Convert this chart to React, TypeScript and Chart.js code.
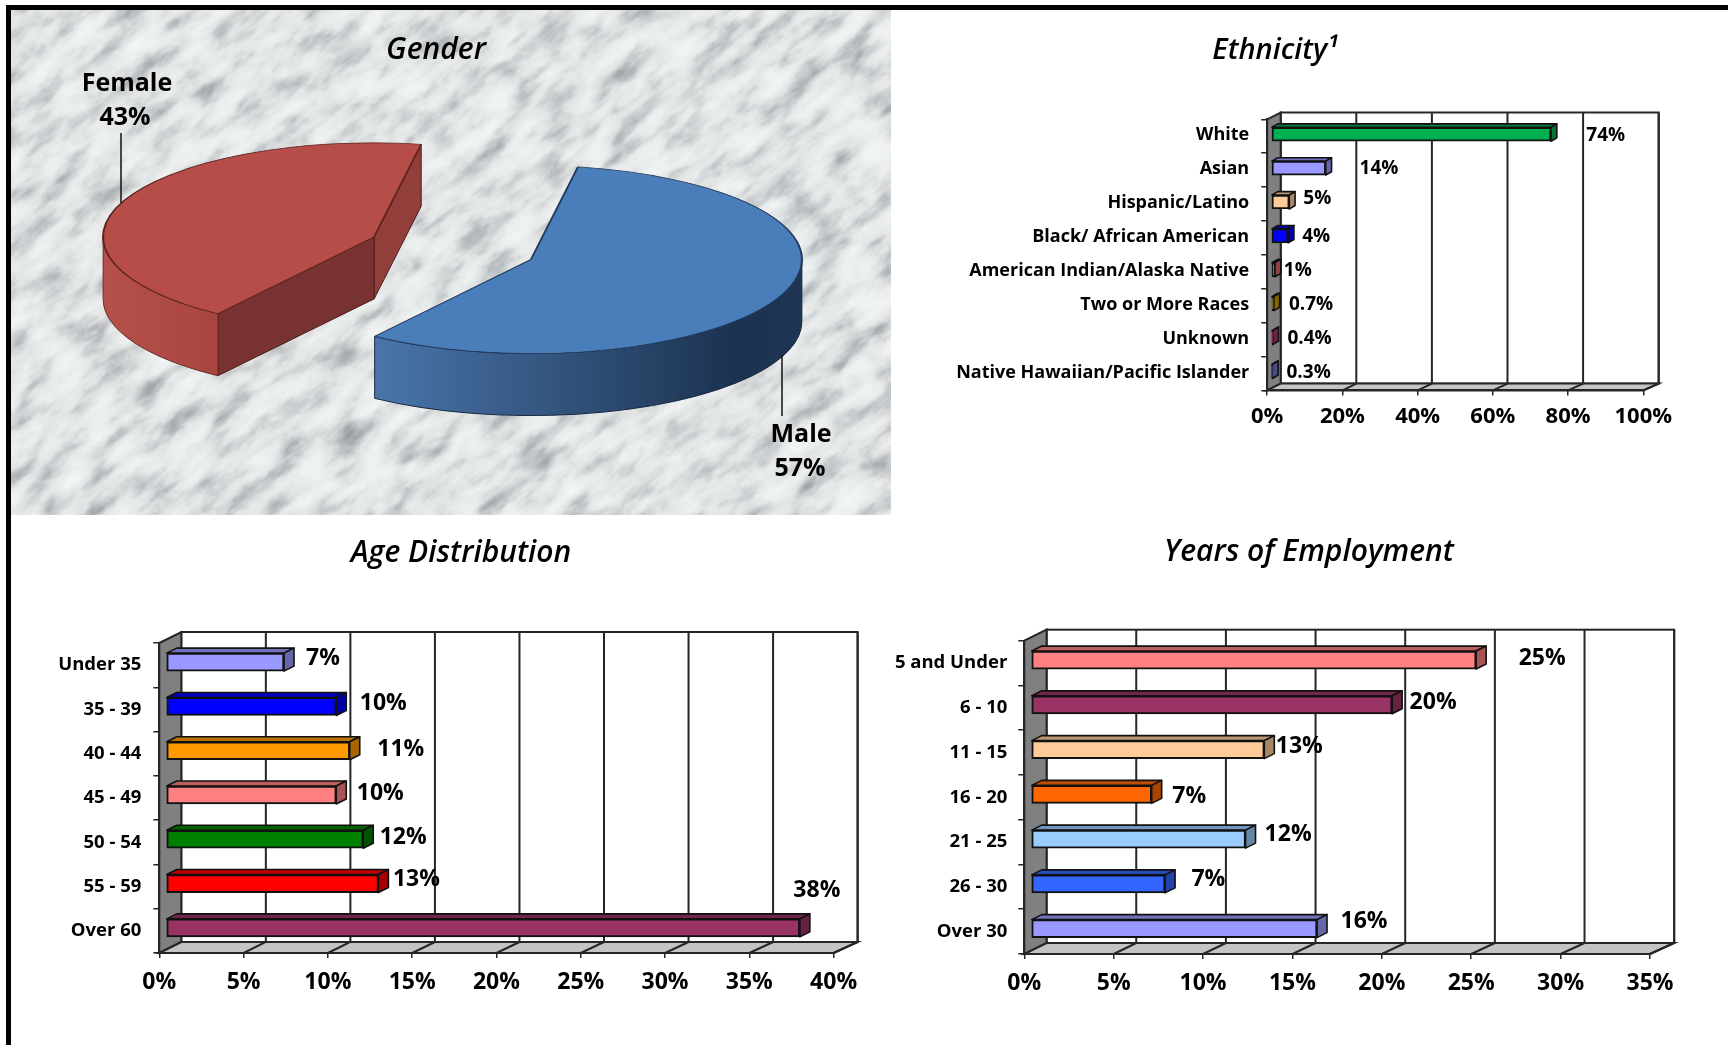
import React, { useEffect, useRef } from "react";
import { Chart, registerables } from "chart.js";

Chart.register(...registerables);

const FONT = '"Open Sans", "Noto Sans", sans-serif';
const INK = "#000000";
const LINE = "#262626";

// ---- data ----
const genderLabels = ["Male", "Female"];
const genderValues = [57, 43];
const genderColors = ["#4A7EBB", "#B64D48"];

const ethnicityCategories = ["White", "Asian", "Hispanic/Latino", "Black/ African American", "American Indian/Alaska Native", "Two or More Races", "Unknown", "Native Hawaiian/Pacific Islander"];
const ethnicityValues = [74.4, 14.5, 4.8, 4.5, 1, 0.7, 0.4, 0.3];
const ethnicityText = ["74%", "14%", "5%", "4%", "1%", "0.7%", "0.4%", "0.3%"];
const ethnicityColors = ["#00B050", "#9999FF", "#FFCC99", "#0000FF", "#E06666", "#C79A00", "#A6336A", "#6F74D8"];
const ethnicityNudgeX = [54.7, 53.2, 28, 28, 22.9, 37.2, 36.9, 36.3];
const ethnicityNudgeY = [-1.8, -2.2, -6.6, -2.4, -1.8, -2.2, -2.4, -2.3];

const ageCategories = ["Under 35", "35 - 39", "40 - 44", "45 - 49", "50 - 54", "55 - 59", "Over 60"];
const ageValues = [7, 10.1, 10.9, 10.1, 11.7, 12.6, 37.6];
const ageText = ["7%", "10%", "11%", "10%", "12%", "13%", "38%"];
const ageColors = ["#9999FF", "#0000FF", "#FF9900", "#FF8080", "#008000", "#FF0000", "#993366"];
const ageNudgeX = [39, 47, 51, 44, 40, 38, 17];
const ageNudgeY = [-8, -7, -5, -6, -6, -8, -41];

const yearsCategories = ["5 and Under", "6 - 10", "11 - 15", "16 - 20", "21 - 25", "26 - 30", "Over 30"];
const yearsValues = [24.9, 20.2, 13.05, 6.75, 12, 7.5, 16];
const yearsText = ["25%", "20%", "13%", "7%", "12%", "7%", "16%"];
const yearsColors = ["#FF8080", "#993366", "#FFCC99", "#FF6600", "#99CCFF", "#3366FF", "#9999FF"];
const yearsNudgeX = [66, 41, 35, 37.5, 42.6, 43.3, 47];
const yearsNudgeY = [-6, -6, -7.6, -1.7, -8.9, -8.6, -10.7];

function shade(hex: string, f: number) {
  const n = parseInt(hex.slice(1), 16);
  const c = [(n >> 16) & 255, (n >> 8) & 255, n & 255].map((v) => Math.round(v * f));
  return `rgb(${c[0]},${c[1]},${c[2]})`;
}

// ---- shared: title placed at an exact centre ----
const titleCentre = {
  id: "titleCentre",
  afterLayout(chart: any, _a: any, o: any) {
    const t = chart.titleBlock;
    if (t && o.x !== undefined) {
      t.left = o.x - 420;
      t.right = o.x + 420;
    }
  },
};

// ---- 3-D box for bar charts ----
const box3d = {
  id: "box3d",
  beforeDraw(chart: any, _a: any, o: any) {
    const { ctx, chartArea: a, scales } = chart;
    const { wallX: dx, wallY: dy, wallGrow: g } = o;
    const backRight = a.left + dx + (a.right - a.left) * g;
    ctx.save();
    ctx.lineWidth = 2;
    ctx.strokeStyle = LINE;
    ctx.fillStyle = "#FFFFFF";
    ctx.fillRect(a.left + dx, a.top - dy, backRight - a.left - dx, a.bottom - a.top);
    ctx.strokeRect(a.left + dx, a.top - dy, backRight - a.left - dx, a.bottom - a.top);
    const poly = (pts: number[][], fill: string) => {
      ctx.beginPath();
      pts.forEach((p, i) => (i ? ctx.lineTo(p[0], p[1]) : ctx.moveTo(p[0], p[1])));
      ctx.closePath();
      ctx.fillStyle = fill;
      ctx.fill();
      ctx.stroke();
    };
    poly([[a.left, a.top], [a.left + dx, a.top - dy], [a.left + dx, a.bottom - dy], [a.left, a.bottom]], "#808080");
    poly([[a.left, a.bottom], [a.right, a.bottom], [backRight, a.bottom - dy], [a.left + dx, a.bottom - dy]], "#C4C4C4");
    scales.x.ticks.forEach((t: any) => {
      const px = scales.x.getPixelForValue(t.value);
      if (px <= a.left + 1) return;
      const bx = a.left + dx + (px - a.left) * g;
      ctx.beginPath();
      ctx.moveTo(px, a.bottom);
      ctx.lineTo(bx, a.bottom - dy);
      ctx.lineTo(bx, a.top - dy);
      ctx.stroke();
    });
    ctx.restore();
  },
  beforeDatasetsDraw(chart: any, _a: any, o: any) {
    const { ctx } = chart;
    ctx.save();
    ctx.translate(o.barX, o.barY);
    const dx = o.depthX;
    const dy = o.depthY;
    chart.getDatasetMeta(0).data.forEach((el: any, i: number) => {
      const col = chart.data.datasets[0].backgroundColor[i];
      const t = el.y - el.height / 2;
      const b = el.y + el.height / 2;
      ctx.lineWidth = 1.6;
      ctx.strokeStyle = "#111111";
      ctx.lineJoin = "round";
      ctx.fillStyle = shade(col, 0.74);
      ctx.beginPath();
      ctx.moveTo(el.base, t);
      ctx.lineTo(el.base + dx, t - dy);
      ctx.lineTo(el.x + dx, t - dy);
      ctx.lineTo(el.x, t);
      ctx.closePath();
      ctx.fill();
      ctx.stroke();
      ctx.fillStyle = shade(col, 0.66);
      ctx.beginPath();
      ctx.moveTo(el.x, t);
      ctx.lineTo(el.x + dx, t - dy);
      ctx.lineTo(el.x + dx, b - dy);
      ctx.lineTo(el.x, b);
      ctx.closePath();
      ctx.fill();
      ctx.stroke();
    });
  },
  afterDatasetsDraw(chart: any) {
    chart.ctx.restore();
  },
  afterDraw(chart: any, _a: any, o: any) {
    const { ctx } = chart;
    ctx.save();
    ctx.font = o.valueFont;
    ctx.fillStyle = INK;
    ctx.textAlign = "center";
    ctx.textBaseline = "middle";
    chart.getDatasetMeta(0).data.forEach((el: any, i: number) => {
      ctx.fillText(o.text[i], el.x + o.barX + o.nudgeX[i], el.y + o.nudgeY[i] + 1);
    });
    ctx.restore();
  },
};

type BarCfg = {
  rect: { left: number; top: number; w: number; h: number };
  plot: { x0: number; x1: number; top: number; bottom: number };
  title: string;
  titleAt: { x: number; y: number };
  titleSize: number;
  categories: string[];
  values: number[];
  colors: string[];
  text: string[];
  nudgeX: number[];
  nudgeY: number[];
  max: number;
  step: number;
  catFont: number;
  tickFont: number;
  valueFont: number;
  thickness: number;
  wall: number[];
  wallGrow: number;
  bar: number[];
  depth: number[];
  catPad: number;
  catOffset: number;
  tickPad: number;
};

function barConfig(c: BarCfg): any {
  const { rect: r, plot: p } = c;
  const lh = c.titleSize * 1.2;
  const titleTop = c.titleAt.y - r.top - lh / 2;
  const titleBottom = p.top - r.top - titleTop - lh;
  return {
    type: "bar",
    data: {
      labels: c.categories,
      datasets: [
        {
          data: c.values,
          backgroundColor: c.colors,
          borderColor: "#111111",
          borderWidth: 2,
          borderSkipped: false,
          barThickness: c.thickness,
          clip: false,
        },
      ],
    },
    plugins: [titleCentre, box3d],
    options: {
      indexAxis: "y",
      responsive: false,
      animation: false,
      events: [],
      layout: { padding: { left: 0, top: 0, right: r.left + r.w - p.x1, bottom: 0 } },
      scales: {
        x: {
          min: 0,
          max: c.max,
          afterFit: (s: any) => {
            s.height = r.top + r.h - p.bottom;
          },
          border: { display: true, color: LINE, width: 2 },
          grid: { drawOnChartArea: false, drawTicks: true, tickLength: 5, color: LINE, lineWidth: 1.5 },
          ticks: {
            stepSize: c.step,
            autoSkip: false,
            maxRotation: 0,
            padding: c.tickPad,
            color: INK,
            font: { family: FONT, size: c.tickFont, weight: "700" },
            callback: (v: any) => `${v}%`,
          },
        },
        y: {
          afterFit: (s: any) => {
            s.width = p.x0 - r.left;
          },
          border: { display: true, color: LINE, width: 2 },
          grid: { drawOnChartArea: false, drawTicks: true, tickLength: 6, color: LINE, lineWidth: 1.5 },
          ticks: {
            autoSkip: false,
            padding: c.catPad,
            labelOffset: c.catOffset,
            color: INK,
            font: { family: FONT, size: c.catFont, weight: "700" },
          },
        },
      },
      plugins: {
        legend: { display: false },
        tooltip: { enabled: false },
        title: {
          display: true,
          text: c.title,
          color: INK,
          font: { family: FONT, size: c.titleSize, style: "italic", weight: "600", lineHeight: 1.2 },
          padding: { top: titleTop, bottom: titleBottom },
        },
        titleCentre: { x: c.titleAt.x - r.left },
        box3d: {
          wallX: c.wall[0],
          wallY: c.wall[1],
          wallGrow: c.wallGrow,
          barX: c.bar[0],
          barY: c.bar[1],
          depthX: c.depth[0],
          depthY: c.depth[1],
          text: c.text,
          nudgeX: c.nudgeX,
          nudgeY: c.nudgeY,
          valueFont: `700 ${c.valueFont}px ${FONT}`,
        },
      },
    },
  };
}

const ethnicityCfg: BarCfg = {
  rect: { left: 900, top: 12, w: 828, h: 500 },
  plot: { x0: 1267.2, x1: 1643.3, top: 119.3, bottom: 390.4 },
  title: "Ethnicity¹",
  titleAt: { x: 1275, y: 51 },
  titleSize: 29,
  categories: ethnicityCategories,
  values: ethnicityValues,
  colors: ethnicityColors,
  text: ethnicityText,
  nudgeX: ethnicityNudgeX,
  nudgeY: ethnicityNudgeY,
  max: 100,
  step: 20,
  catFont: 18,
  tickFont: 22,
  valueFont: 19,
  thickness: 14,
  wall: [13.5, 6.8],
  wallGrow: 1.005,
  bar: [4, -2],
  depth: [5.8, 3.4],
  catPad: 12,
  catOffset: -1,
  tickPad: 8,
};

const ageCfg: BarCfg = {
  rect: { left: 11, top: 525, w: 874, h: 520 },
  plot: { x0: 159.3, x1: 833.6, top: 643, bottom: 953 },
  title: "Age Distribution",
  titleAt: { x: 461, y: 553 },
  titleSize: 30,
  categories: ageCategories,
  values: ageValues,
  colors: ageColors,
  text: ageText,
  nudgeX: ageNudgeX,
  nudgeY: ageNudgeY,
  max: 40,
  step: 5,
  catFont: 18.5,
  tickFont: 23,
  valueFont: 23,
  thickness: 18,
  wall: [22, 11],
  wallGrow: 1.003,
  bar: [6.7, -3],
  depth: [10, 5],
  catPad: 12,
  catOffset: 0,
  tickPad: 11,
};

const yearsCfg: BarCfg = {
  rect: { left: 885, top: 525, w: 843, h: 520 },
  plot: { x0: 1024.3, x1: 1650, top: 640.7, bottom: 954 },
  title: "Years of Employment",
  titleAt: { x: 1309, y: 552 },
  titleSize: 30,
  categories: yearsCategories,
  values: yearsValues,
  colors: yearsColors,
  text: yearsText,
  nudgeX: yearsNudgeX,
  nudgeY: yearsNudgeY,
  max: 35,
  step: 5,
  catFont: 18.5,
  tickFont: 23,
  valueFont: 23,
  thickness: 18,
  wall: [22.3, 11],
  wallGrow: 1.003,
  bar: [6.7, -3],
  depth: [10, 5],
  catPad: 11,
  catOffset: 0,
  tickPad: 11,
};

// ---- extruded, squashed pie ----
const TILT = 0.347;
const DEPTH = 62;
const EXPLODE = 84.9;
const pie3d = {
  id: "pie3d",
  afterDatasetsUpdate(chart: any) {
    chart.getDatasetMeta(0).data.forEach((el: any) => {
      const half = (el.startAngle + el.endAngle) / 2;
      el.x += Math.cos(half) * EXPLODE;
      el.y += Math.sin(half) * EXPLODE;
    });
  },
  beforeDatasetsDraw(chart: any) {
    const { ctx, chartArea } = chart;
    const arcs = chart.getDatasetMeta(0).data;
    const cy = (chartArea.top + chartArea.bottom) / 2;
    const walls = [
      [["#4A75AB", 0], ["#2F4E75", 0.5], ["#1B3250", 0.85], ["#1E3654", 1]],
      [["#B5504A", 0], ["#A9453F", 1]],
    ];
    arcs.forEach((el: any, i: number) => {
      const cx = el.x;
      const yc = cy + (el.y - cy) * TILT;
      const R = el.outerRadius;
      const pt = (a: number) => [cx + R * Math.cos(a), yc + R * TILT * Math.sin(a)];
      const face = (a: number, fill: string) => {
        const p = pt(a);
        ctx.beginPath();
        ctx.moveTo(cx, yc);
        ctx.lineTo(p[0], p[1]);
        ctx.lineTo(p[0], p[1] + DEPTH);
        ctx.lineTo(cx, yc + DEPTH);
        ctx.closePath();
        ctx.fillStyle = fill;
        ctx.fill();
        ctx.lineWidth = 1;
        ctx.strokeStyle = "#4A1D1B";
        ctx.stroke();
      };
      if (Math.sin(el.endAngle + Math.PI / 2) > 0) face(el.endAngle, shade(genderColors[i], 0.8));
      if (Math.sin(el.startAngle - Math.PI / 2) > 0) face(el.startAngle, shade(genderColors[i], 0.66));
      const a0 = Math.max(el.startAngle, 0);
      const a1 = Math.min(el.endAngle, Math.PI);
      if (a1 > a0) {
        const p0 = pt(a0);
        const p1 = pt(a1);
        const g = ctx.createLinearGradient(Math.min(p0[0], p1[0]), 0, Math.max(p0[0], p1[0]), 0);
        walls[i].forEach((s: any) => g.addColorStop(s[1], s[0]));
        ctx.beginPath();
        ctx.ellipse(cx, yc, R, R * TILT, 0, a0, a1);
        ctx.lineTo(p1[0], p1[1] + DEPTH);
        ctx.ellipse(cx, yc + DEPTH, R, R * TILT, 0, a1, a0, true);
        ctx.closePath();
        ctx.fillStyle = g;
        ctx.fill();
        ctx.lineWidth = 1;
        ctx.strokeStyle = i ? "#6E2A27" : "#16283F";
        ctx.stroke();
      }
    });
    ctx.save();
    ctx.translate(0, cy);
    ctx.scale(1, TILT);
    ctx.translate(0, -cy);
  },
  afterDatasetsDraw(chart: any, _a: any, o: any) {
    const { ctx } = chart;
    ctx.restore();
    ctx.save();
    ctx.strokeStyle = "#111111";
    ctx.lineWidth = 1.5;
    o.leaders.forEach((l: number[]) => {
      ctx.beginPath();
      ctx.moveTo(l[0], l[1]);
      ctx.lineTo(l[0], l[2]);
      ctx.stroke();
    });
    ctx.fillStyle = INK;
    ctx.font = `700 25px ${FONT}`;
    ctx.textAlign = "center";
    ctx.textBaseline = "middle";
    o.callouts.forEach((c: any) => ctx.fillText(c.t, c.x, c.y));
    ctx.restore();
  },
};

const PIE_RECT = { left: 11, top: 10, w: 880, h: 505 };

function pieConfig(): any {
  const r = PIE_RECT;
  return {
    type: "pie",
    data: {
      labels: genderLabels,
      datasets: [
        {
          data: genderValues,
          backgroundColor: genderColors,
          borderColor: ["#23395A", "#5E2422"],
          borderWidth: 2,
          clip: false,
        },
      ],
    },
    plugins: [titleCentre, pie3d],
    options: {
      responsive: false,
      animation: false,
      events: [],
      rotation: 10,
      radius: 271,
      layout: { padding: { left: 3, right: 0, top: 0, bottom: 86.6 } },
      plugins: {
        legend: { display: false },
        tooltip: { enabled: false },
        title: {
          display: true,
          text: "Gender",
          color: INK,
          font: { family: FONT, size: 30, style: "italic", weight: "600", lineHeight: 1.2 },
          padding: { top: 22, bottom: 0 },
        },
        titleCentre: { x: 436 - r.left },
        pie3d: {
          leaders: [
            [121 - r.left, 133 - r.top, 203 - r.top],
            [782 - r.left, 355 - r.top, 416 - r.top],
          ],
          callouts: [
            { t: `${genderLabels[1]}`, x: 127 - r.left, y: 84 - r.top },
            { t: `${genderValues[1]}%`, x: 125 - r.left, y: 118 - r.top },
            { t: `${genderLabels[0]}`, x: 801 - r.left, y: 435 - r.top },
            { t: `${genderValues[0]}%`, x: 800 - r.left, y: 469 - r.top },
          ],
        },
      },
    },
  };
}

function ChartCanvas({ rect, config }: { rect: any; config: () => any }) {
  const ref = useRef<HTMLCanvasElement>(null);
  useEffect(() => {
    const chart = new Chart(ref.current as HTMLCanvasElement, config());
    return () => chart.destroy();
  }, []);
  return (
    <canvas
      ref={ref}
      width={rect.w}
      height={rect.h}
      style={{ position: "absolute", left: rect.left, top: rect.top, width: rect.w, height: rect.h }}
    />
  );
}

function Marble() {
  const r = PIE_RECT;
  return (
    <svg width={r.w} height={r.h} style={{ position: "absolute", left: r.left, top: r.top }}>
      <defs>
        <filter id="marble" x="0" y="0" width="100%" height="100%" colorInterpolationFilters="sRGB">
          <feTurbulence type="fractalNoise" baseFrequency="0.022 0.05" numOctaves="5" seed="11" />
          <feColorMatrix values="0.6 0.4 0 0 0  0.6 0.4 0 0 0  0.6 0.4 0 0 0  0 0 0 0 1" />
          <feComponentTransfer>
            <feFuncR type="table" tableValues="0.5 0.56 0.66 0.79 0.89 0.93 0.95 0.96 0.97" />
            <feFuncG type="table" tableValues="0.52 0.58 0.68 0.8 0.9 0.94 0.96 0.97 0.98" />
            <feFuncB type="table" tableValues="0.53 0.59 0.69 0.81 0.9 0.94 0.96 0.97 0.98" />
          </feComponentTransfer>
        </filter>
      </defs>
      <rect width={r.w} height={r.h} fill="#E6E9E9" />
      <g transform={`rotate(-38 ${r.w / 2} ${r.h / 2})`}>
        <rect x={-300} y={-500} width={1500} height={1500} filter="url(#marble)" />
      </g>
    </svg>
  );
}

export default function App() {
  return (
    <div style={{ position: "absolute", left: 0, top: 0, width: 1728, height: 1045, overflow: "hidden", background: "#FFFFFF" }}>
      <div style={{ position: "absolute", left: 6, top: 5, right: 0, height: 5, background: "#000" }} />
      <div style={{ position: "absolute", left: 6, top: 5, bottom: 0, width: 5, background: "#000" }} />
      <Marble />
      <ChartCanvas rect={PIE_RECT} config={pieConfig} />
      <ChartCanvas rect={ethnicityCfg.rect} config={() => barConfig(ethnicityCfg)} />
      <ChartCanvas rect={ageCfg.rect} config={() => barConfig(ageCfg)} />
      <ChartCanvas rect={yearsCfg.rect} config={() => barConfig(yearsCfg)} />
    </div>
  );
}
